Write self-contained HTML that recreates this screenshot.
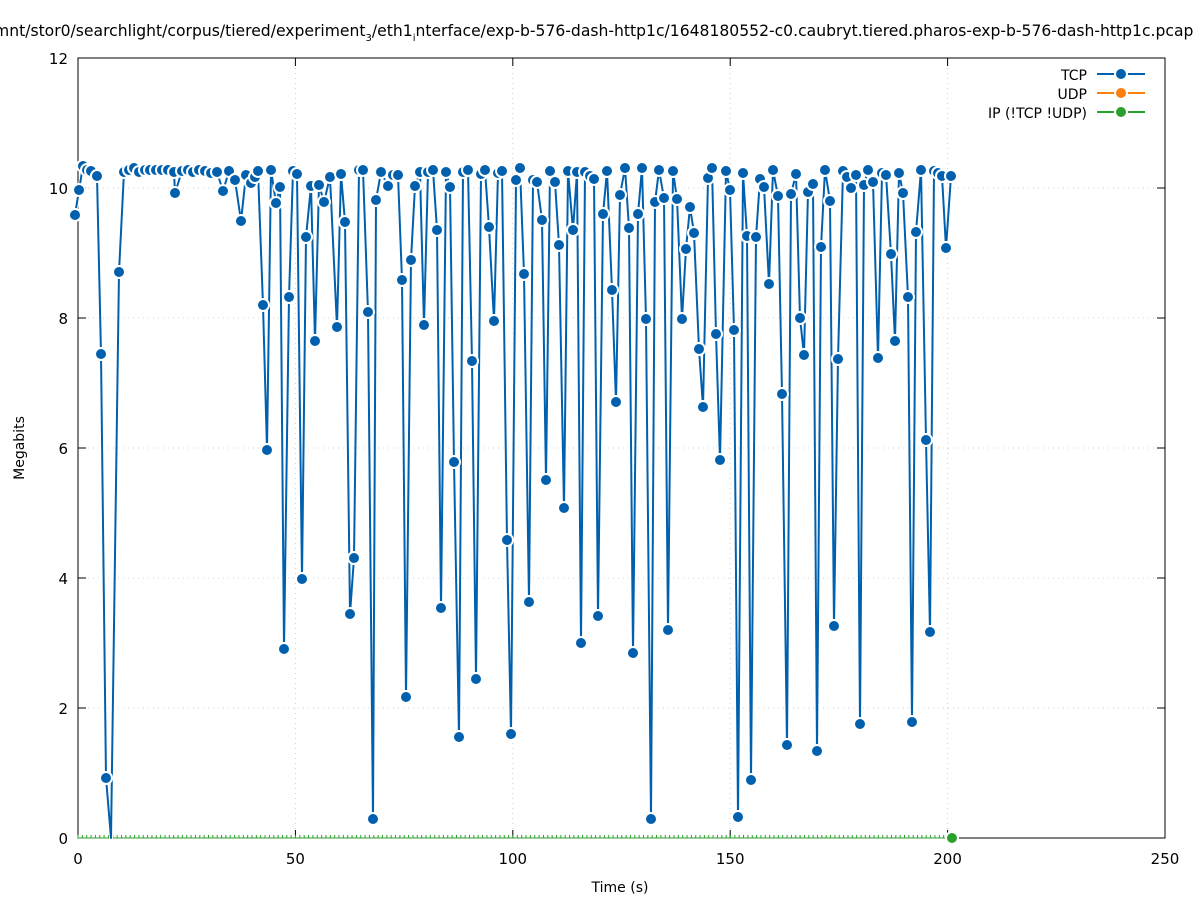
<!DOCTYPE html>
<html><head><meta charset="utf-8"><style>
body{margin:0;background:#fff;}
svg{display:block;font-family:"DejaVu Sans","Liberation Sans",sans-serif;}
</style></head><body>
<svg id="s" width="1197" height="900" xmlns="http://www.w3.org/2000/svg">
<rect width="1197" height="900" fill="#fff"/>
<text x="-6" y="36" font-size="15.6" fill="#000">mnt/stor0/searchlight/corpus/tiered/experiment<tspan font-size="10" dy="5">3</tspan><tspan dy="-5">/eth1</tspan><tspan font-size="10" dy="5">i</tspan><tspan dy="-5">nterface/exp-b-576-dash-http1c/1648180552-c0.caubryt.tiered.pharos-exp-b-576-dash-http1c.pcap</tspan></text>
<g id="grid" stroke="#d0d0d0" stroke-dasharray="1,4" stroke-width="1"></g>
<g id="axes" stroke="#000" stroke-width="1" fill="none">
<rect x="78" y="58" width="1087" height="780"/>
</g>
<g id="ticks" font-size="15" fill="#000"></g>
<text x="620" y="892" font-size="14" text-anchor="middle">Time (s)</text>
<text x="24" y="448" font-size="14" text-anchor="middle" transform="rotate(-90 24 448)">Megabits</text>
<g id="green"></g>
<g id="data"></g>
<g font-size="14" text-anchor="end">
<text x="1087" y="80">TCP</text>
<text x="1087" y="99">UDP</text>
<text x="1087" y="118">IP (!TCP  !UDP)</text>
<line x1="1097" y1="74" x2="1145" y2="74" stroke="#0060ad" stroke-width="2"/>
<circle cx="1121" cy="74" r="6" fill="#0060ad" stroke="#fff" stroke-width="2"/>
<line x1="1097" y1="93" x2="1145" y2="93" stroke="#ff7f0e" stroke-width="2"/>
<circle cx="1121" cy="93" r="6" fill="#ff7f0e" stroke="#fff" stroke-width="2"/>
<line x1="1097" y1="112" x2="1145" y2="112" stroke="#2ca02c" stroke-width="2"/>
<circle cx="1121" cy="112" r="6" fill="#2ca02c" stroke="#fff" stroke-width="2"/>
</g>
</svg>
<script>
var NS="http://www.w3.org/2000/svg";
function el(t,a,p){var e=document.createElementNS(NS,t);for(var k in a)e.setAttribute(k,a[k]);p.appendChild(e);return e;}
var grid=document.getElementById('grid'),ticks=document.getElementById('ticks'),axes=document.getElementById('axes');
for(var i=0;i<=6;i++){var y=838-i*130;
 if(i>0&&i<6)el('line',{x1:78,x2:1165,y1:y,y2:y},grid);
 el('line',{x1:78,x2:86,y1:y,y2:y},axes);el('line',{x1:1157,x2:1165,y1:y,y2:y},axes);
 var t=el('text',{x:68,y:y+6,'text-anchor':'end'},ticks);t.textContent=i*2;}
for(var i=0;i<=5;i++){var x=78+i*217.4;
 if(i>0&&i<5)el('line',{x1:x,x2:x,y1:58,y2:838},grid);
 el('line',{x1:x,x2:x,y1:838,y2:830},axes);el('line',{x1:x,x2:x,y1:58,y2:66},axes);
 var t=el('text',{x:x,y:864,'text-anchor':'middle'},ticks);t.textContent=i*50;}
var g=document.getElementById('green');
el('line',{x1:78,x2:952,y1:838,y2:838,stroke:'#2ca02c','stroke-width':1},g);
for(var x=78;x<952;x+=4.35)el('line',{x1:x,x2:x,y1:835,y2:838,stroke:'#2ca02c','stroke-width':1},g);
el('circle',{cx:952,cy:838,r:6,fill:'#2ca02c',stroke:'#fff','stroke-width':2},g);
var P=[75,215,79,190,83,166,87,170,91,171,97,176,101,354,106,778,111,838,119,272,124,172,129,170,134,168,139,172,145,170,150,170,156,170,162,170,168,170,174,172,175,193,182,171,188,170,193,172,199,170,205,171,211,173,217,172,223,191,229,171,235,180,241,221,246,175,251,183,255,177,258,171,263,305,267,450,271,170,276,203,280,187,284,649,289,297,293,171,297,174,302,579,306,237,311,186,315,341,319,185,324,202,330,177,337,327,341,174,345,222,350,614,354,558,359,170,363,170,368,312,373,819,376,200,381,172,388,186,393,175,398,175,402,280,406,697,411,260,415,186,420,172,424,325,428,172,433,170,437,230,441,608,446,172,450,187,454,462,459,737,463,172,468,170,472,361,476,679,481,174,485,170,489,227,494,321,498,173,502,171,507,540,511,734,516,180,520,168,524,274,529,602,533,180,537,182,542,220,546,480,550,171,555,182,559,245,564,508,568,171,573,230,577,172,581,643,585,172,590,176,594,179,598,616,603,214,607,171,612,290,616,402,620,195,625,168,629,228,633,653,638,214,642,168,646,319,651,819,655,202,659,170,664,198,668,630,673,171,677,199,682,319,686,249,690,207,694,233,699,349,703,407,708,178,712,168,716,334,720,460,726,171,730,190,734,330,738,817,743,173,747,236,751,780,756,237,760,179,764,187,769,284,773,170,778,196,782,394,787,745,791,194,796,174,800,318,804,355,808,192,813,184,817,751,821,247,825,170,830,201,834,626,838,359,843,171,847,177,851,188,856,175,860,724,864,185,868,170,873,182,878,358,882,173,886,175,891,254,895,341,899,173,903,193,908,297,912,722,916,232,921,170,926,440,930,632,934,171,938,173,942,176,946,248,951,176];
var d=document.getElementById('data'),pts=[];
for(var i=0;i<P.length;i+=2)pts.push(P[i]+','+P[i+1]);
el('polyline',{points:pts.join(' '),fill:'none',stroke:'#fff','stroke-width':4,'stroke-linejoin':'round'},d);
el('polyline',{points:pts.join(' '),fill:'none',stroke:'#0060ad','stroke-width':2,'stroke-linejoin':'round'},d);
for(var i=0;i<P.length;i+=2){if(P[i+1]>=838)continue;el('circle',{cx:P[i],cy:P[i+1],r:6,fill:'#0060ad',stroke:'#fff','stroke-width':2},d);}
</script>
</body></html>
